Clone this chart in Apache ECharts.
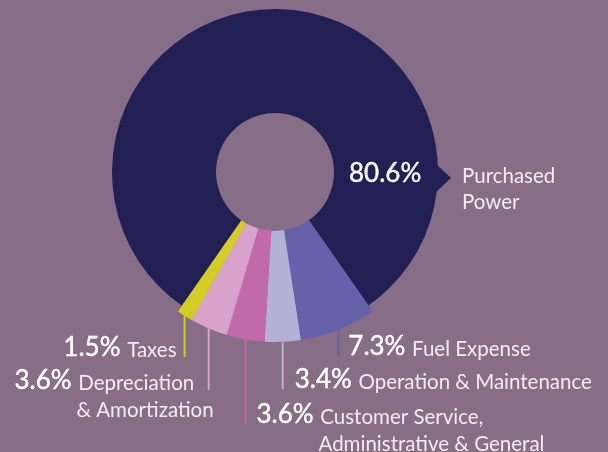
<!DOCTYPE html>
<html>
<head>
<meta charset="utf-8">
<script src="https://cdn.jsdelivr.net/npm/echarts@6/dist/echarts.min.js"></script>
<style>
  html, body { margin: 0; padding: 0; background: #876d86; }
  #main { width: 608px; height: 452px; }
</style>
</head>
<body>
<div id="main"></div>
<script>
  // slices run clockwise, starting at the lower right edge of the big slice
  var names = ['Fuel Expense', 'Operation & Maintenance', 'Customer Service,\nAdministrative & General',
    'Depreciation\n& Amortization', 'Taxes', 'Purchased\nPower']
  var values = [7.3, 3.4, 3.6, 3.6, 1.5, 80.6]
  var colors = ['#6661ab', '#b4b1d6', '#c169ab', '#d8a2ca', '#d3cc24', '#221f55']

  // where the leader lines stop (first text baseline) and which side the text sits on
  var labelBase = [356, 389, 424, 390, 357]
  var labelAlign = ['left', 'left', 'left', 'right', 'right']
  var labelGap = [10, 12, 11, 5, -8]

  var CX = 275, CY = 172, R_IN = 59, R_OUT = 163, R_SMALL = 170

  var pctFont = {
    fontFamily: 'Lato', fontSize: 26, fontWeight: 'normal', color: '#ffffff',
    textBorderColor: '#ffffff', textBorderWidth: 0.4, verticalAlign: 'bottom', align: 'left'
  }
  var nameFont = { fontFamily: 'Lato', fontSize: 20.5, color: '#f3ebf2', verticalAlign: 'bottom', align: 'left' }

  var rich = {
    p: Object.assign({ lineHeight: 27 }, pctFont),
    n: Object.assign({ lineHeight: 27 }, nameFont),
    sp: { width: 62, lineHeight: 27, align: 'left' },
    pw: Object.assign({ lineHeight: 26, width: 113 }, pctFont),
    sw: { width: 113, lineHeight: 26, align: 'left' },
    n2: Object.assign({ lineHeight: 26 }, nameFont)
  }

  function pct (v) {
    return v.toFixed(1) + '%'
  }

  var baseData = values.map(function (v, i) {
    return {
      name: names[i],
      value: v,
      itemStyle: { color: colors[i] },
      label: { show: i === 5 }
    }
  })

  var smallData = values.map(function (v, i) {
    var big = i === 5
    return {
      name: names[i],
      value: v,
      itemStyle: { color: big ? 'rgba(0,0,0,0)' : colors[i] },
      label: { show: !big },
      labelLine: { show: !big, lineStyle: { color: colors[i], width: 2 } }
    }
  })

  var myChart = echarts.init(document.getElementById('main'))
  myChart.setOption({
    backgroundColor: '#876d86',
    animation: false,
    graphic: [{
      type: 'polygon',
      z: 10,
      shape: { points: [[CX + R_OUT - 3, CY - 9], [CX + R_OUT + 13, CY + 6], [CX + R_OUT - 3, CY + 21]] },
      style: { fill: colors[5] }
    }],
    series: [{
      type: 'pie',
      center: [CX, CY],
      radius: [R_IN, R_OUT],
      startAngle: 305,
      avoidLabelOverlap: false,
      silent: true,
      data: baseData,
      label: {
        position: 'inside',
        formatter: function (p) {
          var lines = p.name.split('\n')
          return '{pw|' + pct(p.value) + '}{n2|' + lines[0] + '}\n{sw|}{n2|' + lines[1] + '}'
        },
        rich: rich
      },
      labelLine: { show: false },
      labelLayout: function (params) {
        return { x: 349, y: 161, align: 'left', verticalAlign: 'top' }
      }
    }, {
      type: 'pie',
      center: [CX, CY],
      radius: [R_IN, R_SMALL],
      startAngle: 305,
      avoidLabelOverlap: false,
      silent: true,
      z: 3,
      data: smallData,
      label: {
        position: 'outside',
        formatter: function (p) {
          var lines = p.name.split('\n')
          var s = '{p|' + pct(p.value) + ' }{n|' + lines[0] + '}'
          for (var k = 1; k < lines.length; k++) {
            s += '\n{sp|}{n|' + lines[k] + '}'
          }
          return s
        },
        rich: rich
      },
      labelLine: { show: true, length: 10, length2: 10 },
      labelLayout: function (params) {
        var i = params.dataIndex
        if (i >= labelBase.length || !params.labelLinePoints) return {}
        var x0 = params.labelLinePoints[0][0]
        var y0 = params.labelLinePoints[0][1]
        var yEnd = labelBase[i]
        return {
          x: x0 + labelGap[i],
          y: yEnd - 23.5,
          align: labelAlign[i],
          verticalAlign: 'top',
          labelLinePoints: [[x0, y0], [x0, yEnd], [x0, yEnd]]
        }
      }
    }]
  })
</script>
</body>
</html>
